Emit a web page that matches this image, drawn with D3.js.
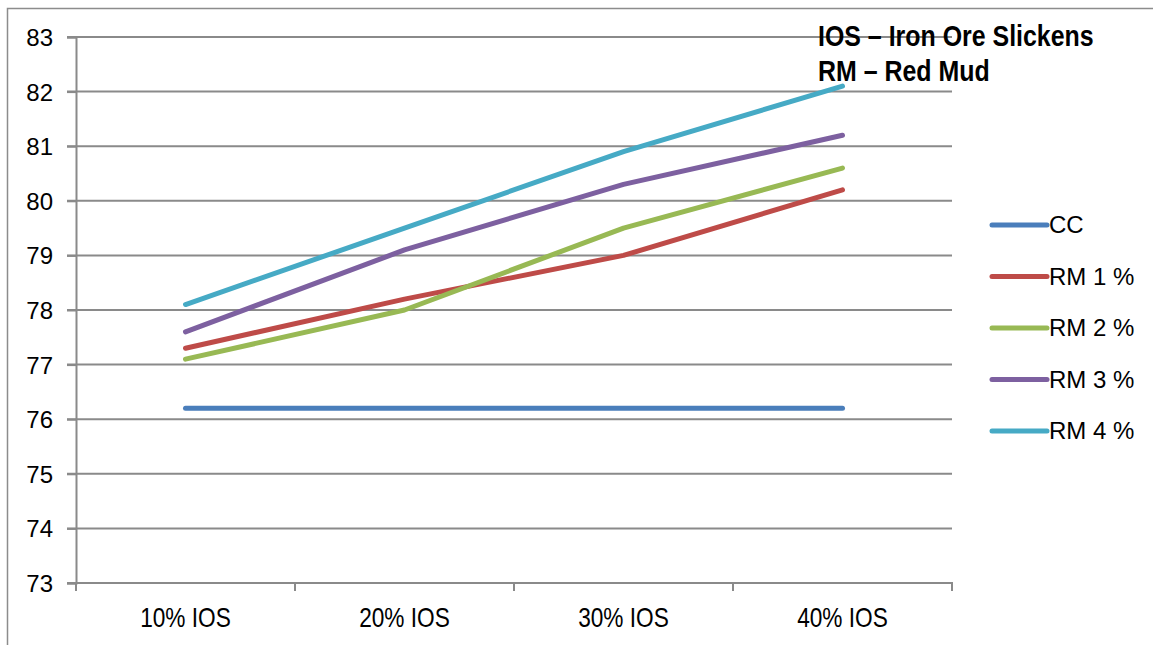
<!DOCTYPE html>
<html>
<head>
<meta charset="utf-8">
<script src="https://cdn.jsdelivr.net/npm/d3@7"></script>
<style>
  html, body { margin: 0; padding: 0; background: #fff; }
  svg { display: block; }
  .lbl { font-family: "Liberation Sans Narrow", "Liberation Sans", Arial, sans-serif; fill: #000; }
</style>
</head>
<body>
<svg id="chart" width="1153" height="645"></svg>
<script>
// Categories along the x axis
const categories = ["10% IOS", "20% IOS", "30% IOS", "40% IOS"];
// Series names for the legend
const seriesNames = ["CC", "RM 1 %", "RM 2 %", "RM 3 %", "RM 4 %"];
// Values per series
const ccValues  = [76.2, 76.2, 76.2, 76.2];
const rm1Values = [77.3, 78.2, 79.0, 80.2];
const rm2Values = [77.1, 78.0, 79.5, 80.6];
const rm3Values = [77.6, 79.1, 80.3, 81.2];
const rm4Values = [78.1, 79.5, 80.9, 82.1];
const seriesColors = ["#4a7ebb", "#be4b48", "#98b954", "#7d60a0", "#46aac5"];
const yTicks = [73, 74, 75, 76, 77, 78, 79, 80, 81, 82, 83];
const noteLines = ["IOS \u2013 Iron Ore Slickens", "RM \u2013 Red Mud"];

const series = [ccValues, rm1Values, rm2Values, rm3Values, rm4Values].map((v, i) => ({
  name: seriesNames[i], color: seriesColors[i], values: v
}));

const svg = d3.select("#chart");
const plot = { left: 76, right: 952, top: 37, bottom: 583 };

// Outer frame
svg.append("path")
  .attr("d", "M7.5,645 V8.5 H1153")
  .attr("fill", "none").attr("stroke", "#8c8c8c").attr("stroke-width", 1.5);

const x = d3.scaleBand().domain(categories).range([plot.left, plot.right]);
const y = d3.scaleLinear().domain([73, 83]).range([plot.bottom, plot.top]);

// Horizontal gridlines
svg.append("g").selectAll("line").data(yTicks).join("line")
  .attr("x1", plot.left - 9).attr("x2", plot.right)
  .attr("y1", d => y(d)).attr("y2", d => y(d))
  .attr("stroke", "#8a8a8a").attr("stroke-width", 2);

// Y axis
const yAxis = svg.append("g").attr("transform", `translate(${plot.left},0)`)
  .call(d3.axisLeft(y).tickValues(yTicks).tickSize(9).tickPadding(14).tickFormat(d3.format("d")));
yAxis.select(".domain").attr("stroke", "#8a8a8a").attr("stroke-width", 2);
yAxis.selectAll(".tick line").attr("stroke", "#8a8a8a").attr("stroke-width", 2);
yAxis.selectAll(".tick text").attr("class", "lbl").style("font-size", "24px").attr("dy", "0.35em");

// X axis with boundary ticks between categories
const xAxis = svg.append("g").attr("transform", `translate(0,${plot.bottom})`);
xAxis.append("line").attr("x1", plot.left).attr("x2", plot.right)
  .attr("stroke", "#8a8a8a").attr("stroke-width", 2);
const bounds = categories.map(c => x(c)).concat([plot.right]);
xAxis.selectAll("line.bt").data(bounds).join("line").attr("class", "bt")
  .attr("x1", d => d).attr("x2", d => d).attr("y1", -1).attr("y2", 8)
  .attr("stroke", "#8a8a8a").attr("stroke-width", 2);
// Category labels use a condensed face, emulated with a horizontal squeeze
xAxis.selectAll("g.cat").data(categories).join("g").attr("class", "cat")
  .attr("transform", d => `translate(${x(d) + x.bandwidth() / 2},44) scale(0.84,1)`)
  .append("text")
  .attr("class", "lbl").attr("text-anchor", "middle").style("font-size", "27px")
  .text(d => d);

// Series lines
const line = d3.line()
  .x((d, i) => x(categories[i]) + x.bandwidth() / 2)
  .y(d => y(d));
svg.append("g").selectAll("path").data(series).join("path")
  .attr("d", d => line(d.values))
  .attr("fill", "none").attr("stroke", d => d.color)
  .attr("stroke-width", 5).attr("stroke-linecap", "round").attr("stroke-linejoin", "round");

// Legend
const legend = svg.append("g").attr("transform", "translate(992,225)");
const rows = legend.selectAll("g").data(series).join("g")
  .attr("transform", (d, i) => `translate(0,${i * 51.5})`);
rows.append("line").attr("x1", 0).attr("x2", 55)
  .attr("stroke", d => d.color).attr("stroke-width", 5).attr("stroke-linecap", "round");
rows.append("text").attr("class", "lbl").attr("x", 57).attr("dy", "0.35em")
  .style("font-size", "24px").text(d => d.name);

// Abbreviation note, condensed bold
svg.append("g").selectAll("g").data(noteLines).join("g")
  .attr("transform", (d, i) => `translate(818,${46 + i * 35}) scale(0.86,1)`)
  .append("text")
  .attr("class", "lbl")
  .style("font-size", "29px").style("font-weight", "bold")
  .text(d => d);
</script>
</body>
</html>
